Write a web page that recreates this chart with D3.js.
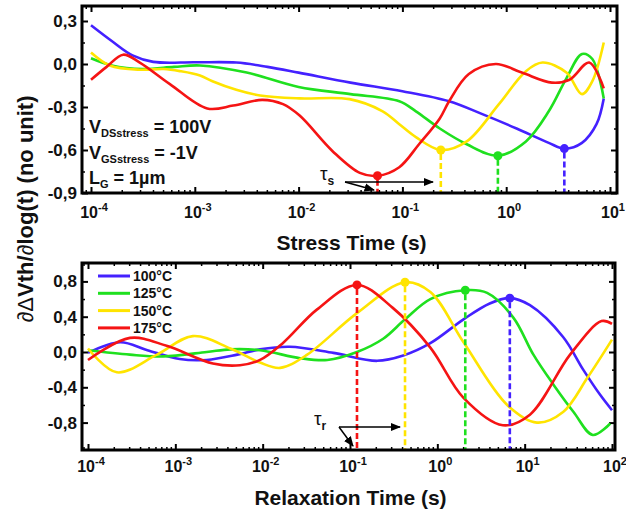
<!DOCTYPE html>
<html>
<head>
  <meta charset="utf-8" />
  <title>dVth/dlog(t) stress and relaxation</title>
  <style type="text/css">
    body { margin: 0; background: white; }
    svg { font-family: "Liberation Sans", Arial, sans-serif; }
    .lbl { font-weight: bold; fill: #111; }
  </style>
  <script src="https://cdn.jsdelivr.net/npm/d3@7/dist/d3.min.js"></script>
</head>
<body>
  <svg id="chart" width="626" height="514"></svg>

<script>
  // series: [log10(t), value]
  var temps = ["100°C", "125°C", "150°C", "175°C"]
  var colors = ["#4421ff", "#1fe01f", "#ffe400", "#f51414"]

  var stress100 = [[-4.0,0.27],[-3.8,0.16],[-3.6,0.06],[-3.4,0.015],[-3.0,0.012],[-2.6,0.01],[-2.3,-0.02],[-2.0,-0.06],[-1.5,-0.13],[-1.0,-0.19],[-0.55,-0.26],[-0.23,-0.35],[0.1,-0.45],[0.41,-0.55],[0.56,-0.59],[0.73,-0.55],[0.87,-0.42],[0.94,-0.24]]
  var stress125 = [[-4.0,0.04],[-3.8,-0.01],[-3.5,-0.035],[-3.2,-0.02],[-2.95,-0.01],[-2.5,-0.06],[-2.0,-0.16],[-1.5,-0.21],[-1.03,-0.26],[-0.87,-0.33],[-0.64,-0.45],[-0.38,-0.56],[-0.08,-0.64],[0.19,-0.54],[0.41,-0.33],[0.58,-0.1],[0.73,0.07],[0.83,0.035],[0.94,-0.24]]
  var stress150 = [[-4.0,0.08],[-3.82,-0.01],[-3.53,-0.04],[-3.3,-0.035],[-3.14,-0.05],[-2.95,-0.08],[-2.83,-0.12],[-2.6,-0.18],[-2.37,-0.22],[-1.99,-0.24],[-1.51,-0.245],[-1.19,-0.33],[-1.03,-0.42],[-0.87,-0.51],[-0.63,-0.6],[-0.38,-0.54],[-0.07,-0.28],[0.19,-0.05],[0.35,0.01],[0.58,-0.06],[0.73,-0.21],[0.83,-0.12],[0.94,0.15]]
  var stress175 = [[-4.0,-0.11],[-3.85,-0.02],[-3.69,0.065],[-3.53,0.01],[-3.24,-0.14],[-2.88,-0.31],[-2.63,-0.29],[-2.35,-0.25],[-2.15,-0.28],[-1.99,-0.36],[-1.67,-0.61],[-1.41,-0.76],[-1.24,-0.78],[-1.03,-0.72],[-0.84,-0.56],[-0.64,-0.38],[-0.55,-0.26],[-0.36,-0.07],[-0.10,0.0],[0.15,-0.06],[0.44,-0.13],[0.61,-0.11],[0.80,0.01],[0.94,-0.17]]

  var relax100 = [[-4.0,-0.01],[-3.63,0.11],[-3.32,0.02],[-2.95,-0.08],[-2.64,-0.09],[-2.29,-0.03],[-2.03,0.03],[-1.69,0.06],[-1.19,-0.01],[-0.69,-0.1],[-0.39,-0.04],[-0.08,0.1],[0.3,0.37],[0.6,0.55],[0.83,0.61],[1.06,0.53],[1.44,0.17],[1.67,-0.2],[1.86,-0.48],[2.0,-0.66]]
  var relax125 = [[-4.0,0.02],[-3.52,-0.03],[-3.14,-0.05],[-2.64,0.0],[-2.37,0.03],[-2.03,0.02],[-1.57,-0.07],[-1.26,-0.09],[-0.92,0.0],[-0.62,0.15],[-0.37,0.37],[-0.08,0.6],[0.32,0.70],[0.57,0.67],[0.87,0.39],[1.10,-0.03],[1.33,-0.37],[1.56,-0.68],[1.78,-0.94],[1.98,-0.81]]
  var relax150 = [[-4.0,0.04],[-3.67,-0.23],[-3.21,-0.03],[-2.8,0.18],[-2.37,0.04],[-2.03,-0.12],[-1.8,-0.18],[-1.49,-0.03],[-0.92,0.44],[-0.37,0.79],[-0.08,0.68],[0.3,0.11],[0.8,-0.6],[1.14,-0.8],[1.44,-0.68],[1.72,-0.29],[2.0,0.14]]
  var relax175 = [[-4.0,-0.09],[-3.52,0.16],[-3.1,0.07],[-2.57,-0.13],[-2.26,-0.15],[-2.03,-0.09],[-1.77,0.1],[-1.38,0.48],[-0.92,0.76],[-0.51,0.5],[-0.08,0.05],[0.3,-0.52],[0.75,-0.83],[1.06,-0.71],[1.52,-0.03],[1.88,0.35],[2.0,0.32]]

  // extrema marked with a dot + dashed drop line: [log10(t), value]
  var tauS = [[0.56,-0.59],[-0.08,-0.64],[-0.63,-0.6],[-1.24,-0.78]]
  var tauR = [[0.83,0.61],[0.32,0.70],[-0.37,0.79],[-0.92,0.76]]

  var stressTicksY = [0.3, 0, -0.3, -0.6, -0.9]
  var relaxTicksY = [0.8, 0.4, 0, -0.4, -0.8]
  var stressExp = [-4, -3, -2, -1, 0, 1]
  var relaxExp = [-4, -3, -2, -1, 0, 1, 2]

  var svg = d3.select("#chart")
  var comma = function (v) { return d3.format(".1f")(v).replace(".", ",").replace("−", "-") }

  function panel(o) {
    var g = svg.append("g")
    var x = d3.scaleLog().domain([Math.pow(10, o.exp[0]), Math.pow(10, o.exp[o.exp.length - 1])]).range(o.xr)
    var y = d3.scaleLinear().domain(o.yd).range(o.yr)
    var L = o.box[0], T = o.box[1], R = o.box[2], B = o.box[3]

    // minor log ticks
    var minors = []
    for (var e = o.exp[0] - 1; e <= o.exp[o.exp.length - 1]; e++)
      for (var m = 2; m < 10; m++) {
        var v = m * Math.pow(10, e)
        if (x(v) > L + 2 && x(v) < R - 2) minors.push(v)
      }
    g.selectAll(".mnb").data(minors).enter().append("line")
      .attr("x1", function (d) { return x(d) }).attr("x2", function (d) { return x(d) })
      .attr("y1", B).attr("y2", B - 3).attr("stroke", "#000").attr("stroke-width", 1.5)
    g.selectAll(".mnt").data(minors).enter().append("line")
      .attr("x1", function (d) { return x(d) }).attr("x2", function (d) { return x(d) })
      .attr("y1", T).attr("y2", T + 3).attr("stroke", "#000").attr("stroke-width", 1.5)

    // major x ticks
    var majors = o.exp.map(function (e) { return Math.pow(10, e) })
    g.append("g").attr("transform", "translate(0," + B + ")")
      .call(d3.axisBottom(x).tickValues(majors).tickSize(-6).tickFormat(""))
      .call(function (a) { a.select(".domain").remove(); a.selectAll("line").attr("stroke-width", 2) })
    g.append("g").attr("transform", "translate(0," + T + ")")
      .call(d3.axisTop(x).tickValues(majors).tickSize(-6).tickFormat(""))
      .call(function (a) { a.select(".domain").remove(); a.selectAll("line").attr("stroke-width", 2) })

    // y ticks (major + midpoint minors)
    var yMin = []
    for (var i = 0; i < o.yt.length - 1; i++) yMin.push((o.yt[i] + o.yt[i + 1]) / 2)
    g.append("g").attr("transform", "translate(" + L + ",0)")
      .call(d3.axisLeft(y).tickValues(o.yt).tickSize(-6).tickFormat(""))
      .call(function (a) { a.select(".domain").remove(); a.selectAll("line").attr("stroke-width", 2) })
    g.append("g").attr("transform", "translate(" + R + ",0)")
      .call(d3.axisRight(y).tickValues(o.yt).tickSize(-6).tickFormat(""))
      .call(function (a) { a.select(".domain").remove(); a.selectAll("line").attr("stroke-width", 2) })
    g.append("g").attr("transform", "translate(" + L + ",0)")
      .call(d3.axisLeft(y).tickValues(yMin).tickSize(-3).tickFormat(""))
      .call(function (a) { a.select(".domain").remove(); a.selectAll("line").attr("stroke-width", 1.5) })
    g.append("g").attr("transform", "translate(" + R + ",0)")
      .call(d3.axisRight(y).tickValues(yMin).tickSize(-3).tickFormat(""))
      .call(function (a) { a.select(".domain").remove(); a.selectAll("line").attr("stroke-width", 1.5) })

    // y tick labels
    g.selectAll(".yl").data(o.yt).enter().append("text").attr("class", "lbl")
      .attr("x", L - 5).attr("y", function (d) { return y(d) + 6 })
      .attr("text-anchor", "end").style("font-size", "17px")
      .text(comma)

    // x tick labels 10^n
    var xl = g.selectAll(".xl").data(o.exp).enter().append("text").attr("class", "lbl")
      .attr("x", function (d) { return x(Math.pow(10, d)) + 3 }).attr("y", o.xlY)
      .attr("text-anchor", "middle").style("font-size", "16px")
    xl.append("tspan").text("10")
    xl.append("tspan").attr("dy", -7).style("font-size", "11px")
      .text(function (d) { return d < 0 ? "-" + (-d) : String(d) })

    // curves
    var line = d3.line().curve(d3.curveCatmullRom.alpha(0.5))
      .x(function (d) { return x(Math.pow(10, d[0])) }).y(function (d) { return y(d[1]) })
    o.series.forEach(function (s, k) {
      g.append("path").datum(s).attr("d", line).attr("fill", "none")
        .attr("stroke", colors[k]).attr("stroke-width", 2.6)
    })

    // drop lines and dots
    o.tau.forEach(function (p, k) {
      g.append("line").attr("x1", x(Math.pow(10, p[0]))).attr("x2", x(Math.pow(10, p[0])))
        .attr("y1", y(p[1]) + 4).attr("y2", B - 1)
        .attr("stroke", colors[k]).attr("stroke-width", 2.6).attr("stroke-dasharray", "6,3")
      g.append("circle").attr("cx", x(Math.pow(10, p[0]))).attr("cy", y(p[1])).attr("r", 4.5)
        .attr("fill", colors[k])
    })

    // frame
    g.append("rect").attr("x", L).attr("y", T).attr("width", R - L).attr("height", B - T)
      .attr("fill", "none").attr("stroke", "#000").attr("stroke-width", 3)

    // axis title
    g.append("text").attr("class", "lbl").attr("x", (L + R) / 2 + 2).attr("y", o.titleY)
      .attr("text-anchor", "middle").style("font-size", "21px").text(o.title)
    return { x: x, y: y }
  }

  var top = panel({ exp: stressExp, xr: [91, 610], yd: [-0.9, 0.3], yr: [193, 21], box: [82, 6, 617, 193],
    yt: stressTicksY, xlY: 218, series: [stress100, stress125, stress150, stress175], tau: tauS,
    title: "Stress Time (s)", titleY: 250 })
  var bot = panel({ exp: relaxExp, xr: [88, 612], yd: [-0.8, 0.8], yr: [422.6, 281.4], box: [82, 263, 615, 450],
    yt: relaxTicksY, xlY: 472, series: [relax100, relax125, relax150, relax175], tau: tauR,
    title: "Relaxation Time (s)", titleY: 505 })

  // arrows
  var defs = svg.append("defs")
  defs.append("marker").attr("id", "ah").attr("viewBox", "0 0 10 10").attr("refX", 9).attr("refY", 5)
    .attr("markerWidth", 7).attr("markerHeight", 7).attr("orient", "auto")
    .append("path").attr("d", "M0,1 L10,5 L0,9 Z").attr("fill", "#000")

  function tauNote(px, py, sub, hx2, dx2, dy2) {
    var t = svg.append("text").attr("x", px).attr("y", py).style("font-size", "19px").attr("fill", "#111")
    t.append("tspan").text("τ")
    t.append("tspan").attr("dy", 5).style("font-size", "12px").style("font-weight", "bold").text(sub)
    var ax = px + 25, ay = py + 2
    svg.append("line").attr("x1", ax).attr("y1", ay).attr("x2", hx2).attr("y2", ay)
      .attr("stroke", "#000").attr("stroke-width", 1.5).attr("marker-end", "url(#ah)")
    svg.append("line").attr("x1", ax).attr("y1", ay).attr("x2", dx2).attr("y2", dy2)
      .attr("stroke", "#000").attr("stroke-width", 1.5).attr("marker-end", "url(#ah)")
  }
  tauNote(320, 180, "s", 433, 374, 190)
  tauNote(314, 425, "r", 400, 353, 446)

  // stress conditions
  var cond = [["V", "DSstress", " = 100V"], ["V", "GSstress", " = -1V"], ["L", "G", " = 1µm"]]
  cond.forEach(function (c, i) {
    var t = svg.append("text").attr("class", "lbl").attr("x", 89).attr("y", 133 + i * 25.5).style("font-size", "18px")
    t.append("tspan").text(c[0])
    t.append("tspan").attr("dy", 4).style("font-size", "11px").text(c[1])
    t.append("tspan").attr("dy", -4).text(c[2])
  })

  // legend
  var lg = svg.append("g").selectAll("g").data(temps).enter().append("g")
    .attr("transform", function (d, i) { return "translate(98," + (276 + i * 17.3) + ")" })
  lg.append("line").attr("x1", 0).attr("x2", 32).attr("stroke", function (d, i) { return colors[i] })
    .attr("stroke-width", 3)
  lg.append("text").attr("class", "lbl").attr("x", 35).attr("y", 5).style("font-size", "14px").text(function (d) { return d })

  // y title
  var yt = svg.append("text").attr("class", "lbl").attr("transform", "translate(33,209) rotate(-90)")
    .attr("text-anchor", "middle").style("font-size", "22px")
  yt.append("tspan").style("font-weight", "normal").text("∂Δ")
  yt.append("tspan").text("Vth/")
  yt.append("tspan").style("font-weight", "normal").text("∂")
  yt.append("tspan").text("log(t) (no unit)")
</script>
</body>
</html>
